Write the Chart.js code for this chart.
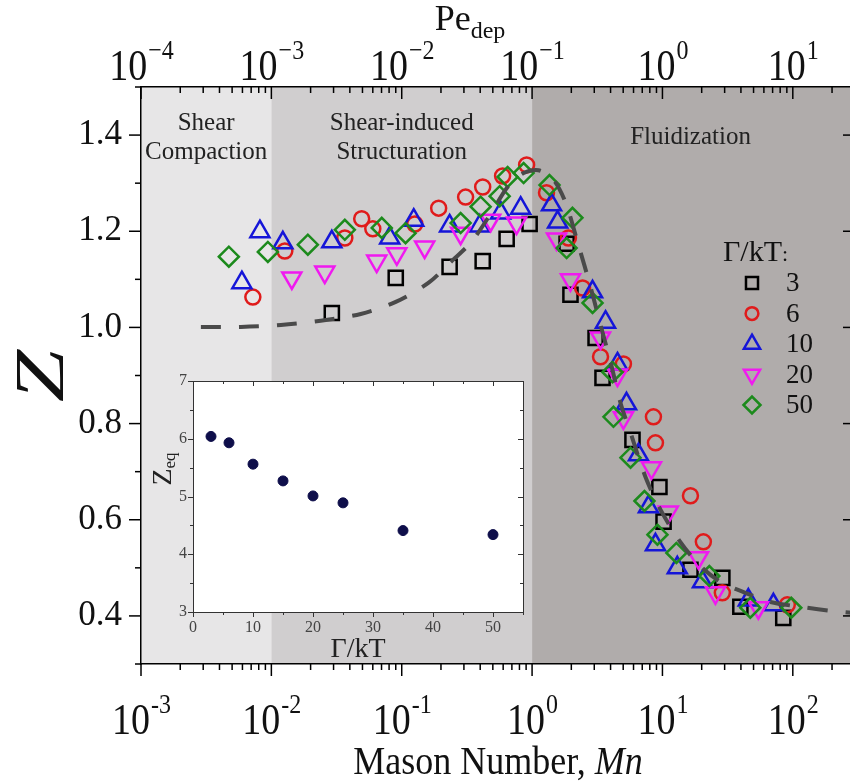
<!DOCTYPE html>
<html>
<head>
<meta charset="utf-8">
<script src="https://cdn.jsdelivr.net/npm/chart.js@4.4.1/dist/chart.umd.min.js"></script>
<style>
html, body { margin: 0; padding: 0; background: #fff; }
#wrap { position: relative; width: 850px; height: 784px; overflow: hidden; }
#main { position: absolute; left: 0; top: 0; }
#inset { position: absolute; left: 150px; top: 365px; }
</style>
</head>
<body>
<div id="wrap">
  <canvas id="main" width="855" height="784"></canvas>
  <canvas id="inset" width="390" height="300"></canvas>
</div>
<script>
// ---- data ----
const seriesNames = ['3', '6', '10', '20', '50'];

const mn3 = [0.0291, 0.090, 0.233, 0.418, 0.638, 0.957, 1.84, 1.97, 3.07, 3.47, 5.89, 9.48, 10.2, 16.4, 28.8, 39.6, 84.5];
const z3  = [1.030, 1.103, 1.126, 1.138, 1.184, 1.215, 1.174, 1.068, 0.978, 0.895, 0.766, 0.668, 0.596, 0.496, 0.479, 0.419, 0.396];

const mn6 = [0.00721, 0.01268, 0.0366, 0.0493, 0.060, 0.126, 0.192, 0.309, 0.418, 0.594, 0.908, 1.29, 1.90, 2.44, 3.35, 5.02, 8.53, 8.84, 16.4, 20.6, 28.8, 90.7];
const z6  = [1.063, 1.159, 1.186, 1.226, 1.205, 1.215, 1.248, 1.271, 1.292, 1.315, 1.338, 1.280, 1.186, 1.082, 0.939, 0.924, 0.814, 0.760, 0.650, 0.554, 0.448, 0.423];

const mn10 = [0.00594, 0.00817, 0.01225, 0.0291, 0.0809, 0.1236, 0.233, 0.396, 0.574, 0.817, 1.41, 1.57, 2.91, 3.66, 4.52, 5.30, 6.55, 7.81, 8.84, 13.0, 20.3, 45.6, 71.0];
const z10  = [1.093, 1.199, 1.176, 1.178, 1.186, 1.223, 1.211, 1.211, 1.238, 1.248, 1.255, 1.219, 1.074, 1.011, 0.924, 0.841, 0.735, 0.627, 0.548, 0.500, 0.471, 0.433, 0.423];

const mn20 = [0.01435, 0.0257, 0.0643, 0.0917, 0.150, 0.283, 0.481, 0.760, 1.54, 1.97, 3.35, 4.52, 5.02, 8.24, 11.1, 18.9, 25.5, 54.4];
const z20  = [1.103, 1.115, 1.138, 1.153, 1.167, 1.196, 1.223, 1.217, 1.184, 1.099, 0.978, 0.901, 0.812, 0.708, 0.616, 0.521, 0.448, 0.417];

const mn50 = [0.00472, 0.00940, 0.01905, 0.0366, 0.0703, 0.107, 0.283, 0.403, 0.564, 0.649, 0.861, 1.36, 1.84, 2.04, 2.91, 4.14, 4.21, 5.69, 7.28, 9.16, 12.8, 22.9, 47.2, 97.4];
const z50  = [1.147, 1.157, 1.172, 1.203, 1.207, 1.196, 1.217, 1.251, 1.273, 1.313, 1.321, 1.296, 1.165, 1.228, 1.051, 0.907, 0.814, 0.729, 0.639, 0.569, 0.531, 0.483, 0.417, 0.417];

// master curve (dashed)
const mnCurve = [0.00288, 0.00583, 0.01183, 0.0239, 0.0485, 0.090, 0.161, 0.246, 0.338, 0.481, 0.649, 0.861, 1.12, 1.46, 1.81, 2.23, 2.81, 3.35, 4.00, 4.77, 5.69, 7.41, 9.66, 13.7, 19.5, 27.8, 43.2, 67.3, 114, 191, 300];
const zCurve  = [1.001, 1.001, 1.005, 1.014, 1.028, 1.053, 1.093, 1.140, 1.176, 1.236, 1.292, 1.321, 1.327, 1.307, 1.259, 1.178, 1.084, 1.005, 0.928, 0.843, 0.781, 0.689, 0.621, 0.554, 0.504, 0.471, 0.448, 0.429, 0.419, 0.411, 0.406];

// inset
const gammaInset = [3, 6, 10, 15, 20, 25, 35, 50];
const zeqInset   = [6.04, 5.93, 5.56, 5.27, 5.01, 4.89, 4.41, 4.34];

// axes
const mnDecades = [-3, -2, -1, 0, 1, 2];
const peDecades = [-4, -3, -2, -1, 0, 1];
const zTicks = [0.4, 0.6, 0.8, 1.0, 1.2, 1.4];
const regionEdges = [1e-3, 1e-2, 1, 300];
const regionNames = [['Shear', 'Compaction'], ['Shear-induced', 'Structuration'], ['Fluidization']];
const insetXTicks = [0, 10, 20, 30, 40, 50];
const insetYTicks = [3, 4, 5, 6, 7];

const SERIF = '"Liberation Serif", "Times New Roman", serif';
const colors = ['#000000', '#e01b1b', '#1515d8', '#f019f0', '#1c8a1c'];
const styles = [
  { pointStyle: 'rect', radius: 10, rotation: 0 },
  { pointStyle: 'circle', radius: 7.5, rotation: 0 },
  { pointStyle: 'triangle', radius: 11, rotation: 0 },
  { pointStyle: 'triangle', radius: 11, rotation: 180 },
  { pointStyle: 'rectRot', radius: 10, rotation: 0 }
];
const mnSets = [mn3, mn6, mn10, mn20, mn50];
const zSets = [z3, z6, z10, z20, z50];

function logTicks(decades, maxVal) {
  const out = [];
  decades.forEach(d => {
    for (let k = 1; k <= 9; k++) {
      const v = k * Math.pow(10, d);
      if (v <= maxVal * 1.0001) out.push({ value: v, major: k === 1 });
    }
  });
  return out;
}

const datasets = [{
  type: 'line',
  label: 'master',
  data: mnCurve.map((x, i) => ({ x, y: zCurve[i] })),
  borderColor: '#4a4a4a',
  borderWidth: 4,
  borderDash: [20, 18],
  pointRadius: 0,
  tension: 0.3,
  fill: false,
  order: 0
}];
seriesNames.forEach((name, i) => {
  datasets.push({
    label: name,
    data: mnSets[i].map((x, j) => ({ x, y: zSets[i][j] })),
    pointStyle: styles[i].pointStyle,
    pointRadius: styles[i].radius,
    rotation: styles[i].rotation,
    borderColor: colors[i],
    backgroundColor: 'rgba(0,0,0,0)',
    pointBorderWidth: 2.5,
    order: seriesNames.length - i
  });
});

function drawPow(ctx, exp, x, base, big, small, rise) {
  ctx.font = big + 'px ' + SERIF;
  const w1 = ctx.measureText('10').width;
  ctx.font = small + 'px ' + SERIF;
  const w2 = ctx.measureText(exp).width;
  const x0 = x - (w1 + w2) / 2;
  ctx.textAlign = 'left';
  ctx.textBaseline = 'alphabetic';
  ctx.save();
  ctx.translate(x0, base);
  ctx.scale(1, 1.15);
  ctx.font = big + 'px ' + SERIF;
  ctx.fillText('10', 0, 0);
  ctx.font = small + 'px ' + SERIF;
  ctx.fillText(exp, w1 + 1, -rise);
  ctx.restore();
}

const backdrop = {
  id: 'backdrop',
  beforeDraw(chart) {
    const { ctx, chartArea: a, scales } = chart;
    ctx.save();
    ctx.fillStyle = '#fff';
    ctx.fillRect(0, 0, chart.width, chart.height);
    const fills = ['#e7e6e7', '#d0cecf', '#b0acab'];
    for (let i = 0; i < 3; i++) {
      const x0 = scales.x.getPixelForValue(regionEdges[i]);
      const x1 = scales.x.getPixelForValue(regionEdges[i + 1]);
      ctx.fillStyle = fills[i];
      ctx.fillRect(x0, a.top, x1 - x0, a.bottom - a.top);
    }
    ctx.restore();
  }
};

const frame = {
  id: 'frame',
  afterDraw(chart) {
    const { ctx, chartArea: a, scales } = chart;
    ctx.save();
    ctx.strokeStyle = '#000';
    ctx.fillStyle = '#111';
    ctx.lineWidth = 1.5;
    const line = (x0, y0, x1, y1) => { ctx.beginPath(); ctx.moveTo(x0, y0); ctx.lineTo(x1, y1); ctx.stroke(); };

    scales.x.ticks.forEach(t => {
      const px = scales.x.getPixelForValue(t.value);
      line(px, a.bottom, px, a.bottom + (t.major ? 12 : 6));
    });
    scales.x2.ticks.forEach(t => {
      const px = scales.x2.getPixelForValue(t.value);
      line(px, a.top, px, a.top + (t.major ? 12 : 6));
    });
    scales.y.ticks.forEach(t => {
      const py = scales.y.getPixelForValue(t.value);
      const major = zTicks.some(v => Math.abs(v - t.value) < 1e-6);
      line(a.left - (major ? 12 : 6), py, a.left, py);
      if (major) line(a.right - 12, py, a.right, py);
    });

    mnDecades.forEach(d => drawPow(ctx, String(d), scales.x.getPixelForValue(Math.pow(10, d)), 734, 38, 24, 18));
    peDecades.forEach(d => drawPow(ctx, d < 0 ? '\u2212' + (-d) : String(d), scales.x2.getPixelForValue(Math.pow(10, d)), 80, 38, 24, 18));

    // axis titles
    ctx.textBaseline = 'alphabetic';
    ctx.font = '36px ' + SERIF;
    const t1 = 'Mason Number, ';
    const w1 = ctx.measureText(t1).width;
    ctx.font = 'italic 36px ' + SERIF;
    const w2 = ctx.measureText('Mn').width;
    const cx = (a.left + a.right) / 2;
    ctx.textAlign = 'left';
    ctx.save();
    ctx.translate(cx - (w1 + w2) / 2, 774);
    ctx.scale(1, 1.12);
    ctx.font = '36px ' + SERIF;
    ctx.fillText(t1, 0, 0);
    ctx.font = 'italic 36px ' + SERIF;
    ctx.fillText('Mn', w1, 0);
    ctx.restore();

    ctx.font = '36px ' + SERIF;
    const wp = ctx.measureText('Pe').width;
    ctx.font = '24px ' + SERIF;
    const wd = ctx.measureText('dep').width;
    const px0 = 470 - (wp + wd) / 2;
    ctx.font = '36px ' + SERIF;
    ctx.fillText('Pe', px0, 30);
    ctx.font = '24px ' + SERIF;
    ctx.fillText('dep', px0 + wp, 38);

    ctx.save();
    ctx.translate(45, 376);
    ctx.rotate(-Math.PI / 2);
    ctx.scale(1.35, 1);
    ctx.textAlign = 'center';
    ctx.textBaseline = 'middle';
    ctx.font = 'italic 70px ' + SERIF;
    ctx.fillText('Z', 0, 0);
    ctx.restore();

    // region labels
    ctx.font = '25px ' + SERIF;
    ctx.fillStyle = '#222';
    ctx.textAlign = 'center';
    ctx.textBaseline = 'middle';
    for (let i = 0; i < 3; i++) {
      const x0 = scales.x.getPixelForValue(regionEdges[i]);
      const x1 = scales.x.getPixelForValue(regionEdges[i + 1]);
      const lines = regionNames[i];
      const y0 = lines.length === 1 ? 137 : 123;
      lines.forEach((s, k) => ctx.fillText(s, (x0 + x1) / 2 - (i === 2 ? 3 : 0), y0 + k * 29));
    }

    // legend
    ctx.fillStyle = '#111';
    ctx.textAlign = 'left';
    ctx.textBaseline = 'alphabetic';
    ctx.font = '30px ' + SERIF;
    ctx.fillText('\u0393/kT', 723, 261);
    const wg = ctx.measureText('\u0393/kT').width;
    ctx.font = '22px ' + SERIF;
    ctx.fillText(':', 723 + wg, 261);
    ctx.font = '27px ' + SERIF;
    ctx.textBaseline = 'middle';
    seriesNames.forEach((name, i) => {
      const y = 283 + i * 30.5;
      ctx.strokeStyle = colors[i];
      ctx.fillStyle = 'rgba(0,0,0,0)';
      ctx.lineWidth = 2.5;
      Chart.helpers.drawPoint(ctx, {
        pointStyle: styles[i].pointStyle,
        rotation: styles[i].rotation,
        radius: styles[i].radius * 0.85,
        borderWidth: 2.5
      }, 752, y);
      ctx.fillStyle = '#111';
      ctx.fillText(name, 786, y + 1);
    });
    ctx.restore();
  }
};

new Chart(document.getElementById('main'), {
  type: 'scatter',
  data: { datasets },
  options: {
    responsive: false,
    animation: false,
    devicePixelRatio: 1,
    layout: { padding: 0, autoPadding: false },
    plugins: { legend: { display: false }, tooltip: { enabled: false } },
    scales: {
      x: {
        type: 'logarithmic', position: 'bottom', min: 1e-3, max: 300,
        afterBuildTicks: s => { s.ticks = logTicks(mnDecades, 300); },
        afterFit: s => { s.height = 120; },
        ticks: { display: false },
        grid: { display: false, drawTicks: false },
        border: { color: '#000', width: 1.5 }
      },
      x2: {
        type: 'logarithmic', axis: 'x', position: 'top', min: 1e-4, max: 30,
        afterBuildTicks: s => { s.ticks = logTicks(peDecades, 30); },
        afterFit: s => { s.height = 87; },
        ticks: { display: false },
        grid: { display: false, drawTicks: false },
        border: { color: '#000', width: 1.5 }
      },
      y: {
        type: 'linear', position: 'left', min: 0.3, max: 1.5,
        afterBuildTicks: s => {
          const t = [];
          for (let k = 3; k <= 15; k++) t.push({ value: k / 10 });
          s.ticks = t;
        },
        afterFit: s => { s.width = 141; },
        ticks: {
          autoSkip: false,
          padding: 19,
          color: '#111',
          font: { family: SERIF, size: 35 },
          callback: v => zTicks.some(t => Math.abs(t - v) < 1e-6) ? v.toFixed(1) : ''
        },
        grid: { display: false, drawTicks: false },
        border: { color: '#000', width: 1.5 }
      }
    }
  },
  plugins: [backdrop, frame]
});

// ---- inset ----
const insetDeco = {
  id: 'insetDeco',
  beforeDraw(chart) {
    const { ctx, chartArea: a } = chart;
    ctx.save();
    ctx.fillStyle = '#fff';
    ctx.fillRect(a.left, a.top, a.right - a.left, a.bottom - a.top);
    ctx.restore();
  },
  afterDraw(chart) {
    const { ctx, chartArea: a, scales } = chart;
    ctx.save();
    ctx.strokeStyle = '#333';
    ctx.lineWidth = 1;
    ctx.strokeRect(a.left + 0.5, a.top + 0.5, a.right - a.left, a.bottom - a.top);
    const line = (x0, y0, x1, y1) => { ctx.beginPath(); ctx.moveTo(x0, y0); ctx.lineTo(x1, y1); ctx.stroke(); };
    scales.x.ticks.forEach(t => {
      const px = Math.round(scales.x.getPixelForValue(t.value)) + 0.5;
      const len = insetXTicks.includes(t.value) ? 5 : 3;
      line(px, a.bottom, px, a.bottom + len);
      line(px, a.top, px, a.top + len);
    });
    scales.y.ticks.forEach(t => {
      const py = Math.round(scales.y.getPixelForValue(t.value)) + 0.5;
      const len = insetYTicks.includes(t.value) ? 5 : 3;
      line(a.left - len, py, a.left, py);
      line(a.right - len, py, a.right, py);
    });
    ctx.fillStyle = '#222';
    ctx.textAlign = 'center';
    ctx.textBaseline = 'alphabetic';
    ctx.font = '28px ' + SERIF;
    ctx.fillText('\u0393/kT', (a.left + a.right) / 2, 292);

    ctx.translate(14, 104);
    ctx.rotate(-Math.PI / 2);
    ctx.font = '28px ' + SERIF;
    const wz = ctx.measureText('Z').width;
    ctx.font = '17px ' + SERIF;
    const we = ctx.measureText('eq').width;
    ctx.textAlign = 'left';
    ctx.textBaseline = 'middle';
    ctx.font = '28px ' + SERIF;
    ctx.fillText('Z', -(wz + we) / 2, 0);
    ctx.font = '17px ' + SERIF;
    ctx.fillText('eq', -(wz + we) / 2 + wz, 7);
    ctx.restore();
  }
};

new Chart(document.getElementById('inset'), {
  type: 'scatter',
  data: {
    datasets: [{
      data: gammaInset.map((g, i) => ({ x: g, y: zeqInset[i] })),
      pointRadius: 5,
      pointStyle: 'circle',
      backgroundColor: '#0e0e4a',
      borderColor: '#0e0e4a'
    }]
  },
  options: {
    responsive: false,
    animation: false,
    devicePixelRatio: 1,
    layout: { padding: { top: 16, right: 17, left: 0, bottom: 0 }, autoPadding: false },
    plugins: { legend: { display: false }, tooltip: { enabled: false } },
    scales: {
      x: {
        type: 'linear', min: 0, max: 55,
        afterBuildTicks: s => {
          const t = [];
          for (let v = 0; v <= 55; v += 5) t.push({ value: v });
          s.ticks = t;
        },
        afterFit: s => { s.height = 53; },
        ticks: {
          autoSkip: false, maxRotation: 0, padding: 6, color: '#444',
          font: { family: SERIF, size: 16 },
          callback: v => insetXTicks.includes(v) ? String(v) : ''
        },
        grid: { display: false, drawTicks: false },
        border: { display: false }
      },
      y: {
        type: 'linear', min: 3, max: 7,
        afterBuildTicks: s => {
          const t = [];
          for (let v = 3; v <= 7; v += 0.5) t.push({ value: v });
          s.ticks = t;
        },
        afterFit: s => { s.width = 43; },
        ticks: {
          autoSkip: false, padding: 6, color: '#444',
          font: { family: SERIF, size: 16 },
          callback: v => insetYTicks.includes(v) ? String(v) : ''
        },
        grid: { display: false, drawTicks: false },
        border: { display: false }
      }
    }
  },
  plugins: [insetDeco]
});
</script>
</body>
</html>
